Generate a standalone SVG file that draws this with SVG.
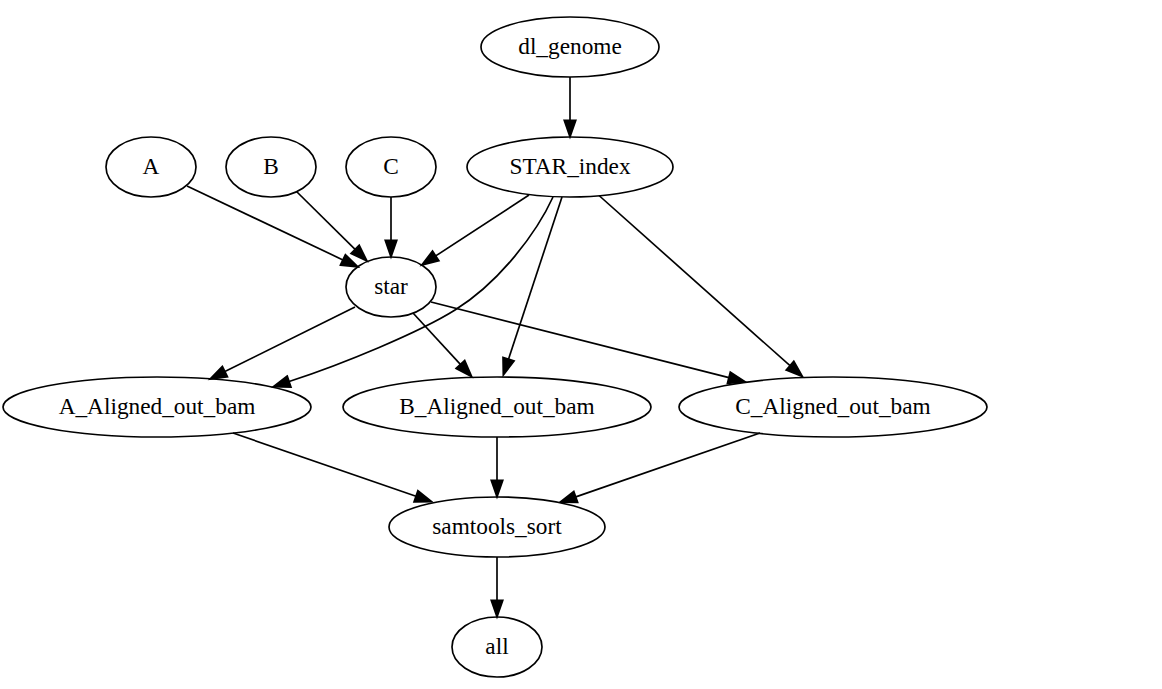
<svg xmlns="http://www.w3.org/2000/svg" width="1162" height="689" viewBox="0 0 1162 689">
  <style>
    .node ellipse { fill: none; stroke: #000; stroke-width: 1.67; }
    .node text { font-family: "Liberation Serif", "Times New Roman", serif; font-size: 23.3px; fill: #000; text-anchor: middle; }
    .edge path { fill: none; stroke: #000; stroke-width: 1.67; }
    .edge polygon { fill: #000; stroke: #000; stroke-width: 1.67; }
  </style>
  <rect width="1162" height="689" fill="#fff"/>

  <!-- connectors -->
  <g id="edges">
    <g class="edge" id="dl_genome-STAR_index">
      <path d="M570,77 L570,120.3"/>
      <polygon points="564.2,120.3 570,137 575.8,120.3"/>
    </g>
    <g class="edge" id="A-star">
      <path d="M187,186 L342.9,259.9"/>
      <polygon points="340.4,265.1 358,267 345.4,254.6"/>
    </g>
    <g class="edge" id="B-star">
      <path d="M296.5,191.5 L355.1,249.3"/>
      <polygon points="351,253.5 367,261 359.2,245.2"/>
    </g>
    <g class="edge" id="C-star">
      <path d="M391,197 L391,240.3"/>
      <polygon points="385.2,240.3 391,257 396.8,240.3"/>
    </g>
    <g class="edge" id="STAR_index-star">
      <path d="M529,195 L435.7,255.9"/>
      <polygon points="432.5,251 421.7,265 438.9,260.8"/>
    </g>
    <g class="edge" id="STAR_index-A_Aligned_out_bam">
      <path d="M553,197 C537,232 500,282 455,310 C420,332 343,364 289.1,381.5"/>
      <polygon points="287.3,376 273.3,386.7 291,387.1"/>
    </g>
    <g class="edge" id="STAR_index-B_Aligned_out_bam">
      <path d="M562,197 L508.5,359.2"/>
      <polygon points="503,357.3 503.3,375 514.1,361"/>
    </g>
    <g class="edge" id="STAR_index-C_Aligned_out_bam">
      <path d="M599,195.5 L790,365.7"/>
      <polygon points="786.1,370.1 802.5,376.7 793.8,361.3"/>
    </g>
    <g class="edge" id="star-A_Aligned_out_bam">
      <path d="M355,307 L224.9,371.6"/>
      <polygon points="222.4,366.4 210,379 227.5,376.8"/>
    </g>
    <g class="edge" id="star-B_Aligned_out_bam">
      <path d="M413,313 L460.4,364.4"/>
      <polygon points="456.1,368.4 471.7,376.7 464.7,360.5"/>
    </g>
    <g class="edge" id="star-C_Aligned_out_bam">
      <path d="M431,302 L728.9,377.6"/>
      <polygon points="727.4,383.3 745,381.7 730.3,372"/>
    </g>
    <g class="edge" id="A_Aligned_out_bam-samtools_sort">
      <path d="M233,433 L416,496.3"/>
      <polygon points="414,501.8 431.7,501.7 417.9,490.7"/>
    </g>
    <g class="edge" id="B_Aligned_out_bam-samtools_sort">
      <path d="M497,437 L497,480.3"/>
      <polygon points="491.2,480.3 497,497 502.8,480.3"/>
    </g>
    <g class="edge" id="C_Aligned_out_bam-samtools_sort">
      <path d="M760,433 L575.8,496.9"/>
      <polygon points="573.8,491.3 560,502.3 577.7,502.4"/>
    </g>
    <g class="edge" id="samtools_sort-all">
      <path d="M497,557 L497,600.3"/>
      <polygon points="491.2,600.3 497,617 502.8,600.3"/>
    </g>
  </g>

  <!-- nodes -->
  <g class="node" id="dl_genome">
    <ellipse cx="570" cy="47" rx="89" ry="30"/>
    <text x="570" y="54">dl_genome</text>
  </g>
  <g class="node" id="STAR_index">
    <ellipse cx="570" cy="167" rx="103" ry="30"/>
    <text x="570" y="174">STAR_index</text>
  </g>
  <g class="node" id="A">
    <ellipse cx="151" cy="167" rx="45" ry="30"/>
    <text x="151" y="174">A</text>
  </g>
  <g class="node" id="B">
    <ellipse cx="271" cy="167" rx="45" ry="30"/>
    <text x="271" y="174">B</text>
  </g>
  <g class="node" id="C">
    <ellipse cx="391" cy="167" rx="45" ry="30"/>
    <text x="391" y="174">C</text>
  </g>
  <g class="node" id="star">
    <ellipse cx="391" cy="287" rx="45" ry="30"/>
    <text x="391" y="294">star</text>
  </g>
  <g class="node" id="A_Aligned_out_bam">
    <ellipse cx="157" cy="407" rx="154" ry="30"/>
    <text x="157" y="414">A_Aligned_out_bam</text>
  </g>
  <g class="node" id="B_Aligned_out_bam">
    <ellipse cx="497" cy="407" rx="154" ry="30"/>
    <text x="497" y="414">B_Aligned_out_bam</text>
  </g>
  <g class="node" id="C_Aligned_out_bam">
    <ellipse cx="833" cy="407" rx="154" ry="30"/>
    <text x="833" y="414">C_Aligned_out_bam</text>
  </g>
  <g class="node" id="samtools_sort">
    <ellipse cx="497" cy="527" rx="108" ry="30"/>
    <text x="497" y="534">samtools_sort</text>
  </g>
  <g class="node" id="all">
    <ellipse cx="497" cy="647" rx="45" ry="30"/>
    <text x="497" y="654">all</text>
  </g>
</svg>
